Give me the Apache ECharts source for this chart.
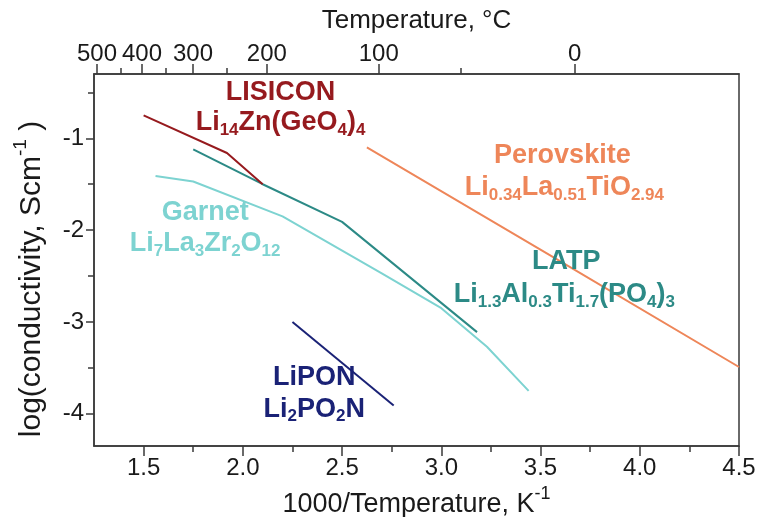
<!DOCTYPE html>
<html>
<head>
<meta charset="utf-8">
<script src="https://cdn.jsdelivr.net/npm/echarts@6/dist/echarts.min.js"></script>
<style>
  html, body { margin: 0; background: #fff; }
  #chart { width: 761px; height: 517px; }
</style>
</head>
<body>
<div id="chart"></div>
<script>
// x = 1000/T (K^-1), y = log(conductivity)
const lisicon = [[1.5, -0.75], [1.92, -1.16], [2.1, -1.5]];
const latp = [[1.75, -1.12], [2.1, -1.5], [2.5, -1.91], [3.18, -3.11]];
const garnet = [[1.56, -1.41], [1.75, -1.47], [2.2, -1.85], [2.7, -2.47], [3.0, -2.85], [3.23, -3.27], [3.44, -3.75]];
const perovskite = [[2.625, -1.10], [3.6, -2.34], [4.5, -3.49]];
const lipon = [[2.25, -3.0], [2.76, -3.91]];

const xTicks = [1.5, 2.0, 2.5, 3.0, 3.5, 4.0, 4.5];
const xMinor = [1.75, 2.25, 2.75, 3.25, 3.75, 4.25];
const yTicks = [-1, -2, -3, -4];
const yMinor = [-0.5, -1.5, -2.5, -3.5];
// top axis: °C labels and where they sit on the 1000/T scale
const tempTicks = [500, 400, 300, 200, 100, 0];
const tempTickPos = [1.265, 1.492, 1.749, 2.121, 2.685, 3.672];
const tempMinorPos = [1.386, 1.613, 1.92, 3.098];

const colors = {
  lisicon: '#961a1e',
  latp: '#2c8a86',
  garnet: '#7dd3d1',
  perovskite: '#ee8659',
  lipon: '#1a2276'
};

// annotation text, one entry per line of text
const notes = [
  { at: [2.19, -0.50], c: colors.lisicon, t: 'LISICON' },
  { at: [2.19, -0.83], c: colors.lisicon, t: 'Li{s|14}Zn(GeO{s|4}){s|4}' },
  { at: [3.61, -1.19], c: colors.perovskite, t: 'Perovskite' },
  { at: [3.62, -1.54], c: colors.perovskite, t: 'Li{s|0.34}La{s|0.51}TiO{s|2.94}' },
  { at: [3.63, -2.34], c: colors.latp, t: 'LATP' },
  { at: [3.62, -2.70], c: colors.latp, t: 'Li{s|1.3}Al{s|0.3}Ti{s|1.7}(PO{s|4}){s|3}' },
  { at: [1.81, -1.81], c: colors.garnet, t: 'Garnet' },
  { at: [1.81, -2.15], c: colors.garnet, t: 'Li{s|7}La{s|3}Zr{s|2}O{s|12}' },
  { at: [2.36, -3.60], c: colors.lipon, t: 'LiPON' },
  { at: [2.36, -3.95], c: colors.lipon, t: 'Li{s|2}PO{s|2}N' }
];

const FONT = 'Liberation Sans, Arial, sans-serif';
const AXIS = '#3a3a3a';
const TEXT = '#1a1a1a';
const X_MIN = 1.25, X_MAX = 4.5, Y_MIN = -4.35, Y_MAX = -0.3;

const myChart = echarts.init(document.getElementById('chart'));

const lineSeries = (data, color) => ({
  type: 'line',
  data: data,
  xAxisIndex: 0,
  yAxisIndex: 0,
  showSymbol: false,
  symbol: 'none',
  silent: true,
  lineStyle: { color: color, width: 2, opacity: 1 },
  z: 3
});

myChart.setOption({
  animation: false,
  textStyle: { fontFamily: FONT },
  grid: {
    left: 94, right: 22, top: 74, bottom: 71,
    containLabel: false,
    outerBoundsMode: 'none',
    show: true, borderColor: AXIS, borderWidth: 1.5
  },
  xAxis: [
    {
      type: 'value', position: 'bottom', min: X_MIN, max: X_MAX,
      name: '1000/Temperature, K{sup|-1}',
      nameLocation: 'middle', nameGap: 38,
      nameTextStyle: {
        fontSize: 27, color: TEXT, fontFamily: FONT, lineHeight: 40,
        rich: { sup: { fontSize: 18, color: TEXT, fontFamily: FONT, verticalAlign: 'top', lineHeight: 14 } }
      },
      axisLine: { show: true, lineStyle: { color: AXIS, width: 1.5 } },
      axisTick: { show: true, customValues: xTicks, length: 10, lineStyle: { color: AXIS, width: 1.5 } },
      axisLabel: {
        customValues: xTicks, margin: 10, fontSize: 24, color: TEXT,
        showMinLabel: true, showMaxLabel: true,
        formatter: v => v.toFixed(1)
      },
      splitLine: { show: false }
    },
    {
      type: 'value', position: 'bottom', min: X_MIN, max: X_MAX,
      axisLine: { show: false },
      axisTick: { show: true, customValues: xMinor, length: 6, lineStyle: { color: AXIS, width: 1.5 } },
      axisLabel: { show: false },
      splitLine: { show: false }
    },
    {
      type: 'value', position: 'top', min: X_MIN, max: X_MAX,
      name: 'Temperature, °C',
      nameLocation: 'middle', nameGap: 40,
      nameTextStyle: { fontSize: 26, color: TEXT, fontFamily: FONT },
      axisLine: { show: true, lineStyle: { color: AXIS, width: 1.5 } },
      axisTick: { show: true, customValues: tempTickPos, length: 10, lineStyle: { color: AXIS, width: 1.5 } },
      axisLabel: {
        customValues: tempTickPos, margin: 8, fontSize: 24, color: TEXT,
        showMinLabel: true, showMaxLabel: true,
        formatter: v => {
          const i = tempTickPos.findIndex(p => Math.abs(p - v) < 1e-6);
          return i < 0 ? '' : String(tempTicks[i]);
        }
      },
      splitLine: { show: false }
    },
    {
      type: 'value', position: 'top', min: X_MIN, max: X_MAX,
      axisLine: { show: false },
      axisTick: { show: true, customValues: tempMinorPos, length: 6, lineStyle: { color: AXIS, width: 1.5 } },
      axisLabel: { show: false },
      splitLine: { show: false }
    }
  ],
  yAxis: [
    {
      type: 'value', position: 'left', min: Y_MIN, max: Y_MAX,
      name: 'log(conductivity, Scm{sup|-1} )',
      nameLocation: 'middle', nameGap: 30,
      nameTextStyle: {
        fontSize: 30, color: TEXT, fontFamily: FONT, lineHeight: 40,
        padding: [0, 38, 0, 0],
        rich: { sup: { fontSize: 19, color: TEXT, fontFamily: FONT, verticalAlign: 'top', lineHeight: 14 } }
      },
      axisLine: { show: true, lineStyle: { color: AXIS, width: 1.5 } },
      axisTick: { show: true, customValues: yTicks, length: 8, lineStyle: { color: AXIS, width: 1.5 } },
      axisLabel: { customValues: yTicks, margin: 10, fontSize: 24, color: TEXT, showMinLabel: true, showMaxLabel: true },
      splitLine: { show: false }
    },
    {
      type: 'value', position: 'left', min: Y_MIN, max: Y_MAX,
      axisLine: { show: false },
      axisTick: { show: true, customValues: yMinor, length: 6, lineStyle: { color: AXIS, width: 1.5 } },
      axisLabel: { show: false },
      splitLine: { show: false }
    }
  ],
  series: [
    lineSeries(garnet, colors.garnet),
    lineSeries(latp, colors.latp),
    lineSeries(lisicon, colors.lisicon),
    lineSeries(perovskite, colors.perovskite),
    lineSeries(lipon, colors.lipon),
    {
      type: 'scatter',
      xAxisIndex: 0,
      yAxisIndex: 0,
      symbolSize: 0,
      silent: true,
      itemStyle: { opacity: 1 },
      z: 5,
      data: notes.map(n => ({
        value: n.at,
        itemStyle: { opacity: 1 },
        label: {
          show: true,
          position: 'inside',
          formatter: n.t,
          color: n.c,
          opacity: 1,
          textBorderWidth: 0,
          textBorderColor: 'transparent',
          fontSize: 27,
          fontWeight: 'bold',
          fontFamily: FONT,
          lineHeight: 32,
          rich: {
            s: {
              fontSize: 17, fontWeight: 'bold', fontFamily: FONT, color: n.c,
              textBorderWidth: 0, textBorderColor: 'transparent',
              verticalAlign: 'bottom', lineHeight: 16
            }
          }
        }
      }))
    }
  ]
});

window.onresize = function () {
  myChart.resize();
};
</script>
</body>
</html>
